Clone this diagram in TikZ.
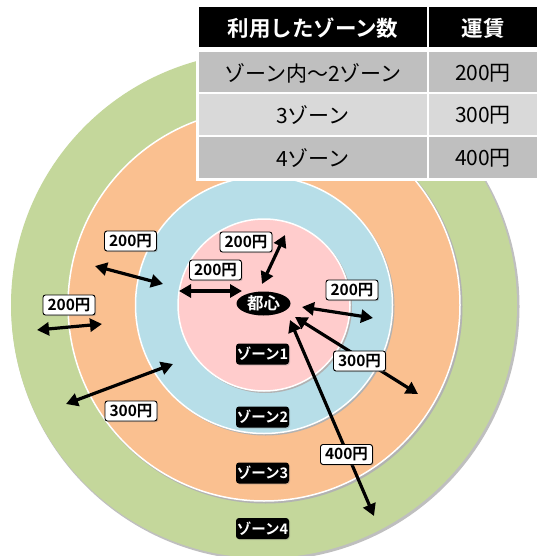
\documentclass[tikz,border=0pt]{standalone}
\usepackage{fontspec}
\setmainfont{Noto Sans CJK JP}[BoldFont={Noto Sans CJK JP Bold}]
\usetikzlibrary{arrows.meta,shapes.geometric,shadows}
\definecolor{zgreen}{HTML}{C4D79B}
\definecolor{zorange}{HTML}{FAC090}
\definecolor{zblue}{HTML}{B7DEE8}
\definecolor{zpink}{HTML}{FFCCCC}
\definecolor{rowdark}{HTML}{BFBFBF}
\definecolor{rowlight}{HTML}{D9D9D9}
\tikzset{
  ring/.style={draw=white, line width=1.5pt},
  price/.style={draw=black, line width=0.9pt, fill=white, rounded corners=2.5pt,
    minimum width=52pt, minimum height=20pt, inner sep=0pt,
    font=\bfseries\fontsize{15.5}{15.5}\selectfont,
    drop shadow={shadow xshift=1.2pt, shadow yshift=-1.2pt, opacity=0.35}},
  zonelbl/.style={fill=black, rounded corners=3pt, text=white,
    minimum width=53pt, minimum height=21pt, inner sep=0pt,
    font=\bfseries\fontsize{14.5}{14.5}\selectfont,
    drop shadow={shadow xshift=1pt, shadow yshift=-1pt, opacity=0.3}},
  farrow/.style={line width=3.2pt,
    {Triangle[length=12pt,width=13pt]}-{Triangle[length=12pt,width=13pt]}},
  hdrcell/.style={fill=black},
  hdrtext/.style={text=white, font=\bfseries\fontsize{21.5}{21.5}\selectfont},
  celltext/.style={text=black, font=\fontsize{21}{21}\selectfont},
}
\begin{document}
\begin{tikzpicture}[x=1pt,y=-1pt]
\useasboundingbox (0,0) rectangle (537,556);
\fill[white] (0,0) rectangle (537,556);
% rings
\coordinate (c) at (264,305);
\fill[black!25] (265.5,306.5) circle (254);
\fill[zgreen] (c) circle (253);
\fill[black!30] (265.5,306.5) circle (197);
\draw[ring, fill=zorange] (c) circle (196);
\fill[black!30] (265.5,306.5) circle (129);
\draw[ring, fill=zblue] (c) circle (128.5);
\fill[black!30] (265.5,306.5) circle (86.5);
\draw[ring, fill=zpink] (c) circle (86);
% table
\fill[white] (196,4) rectangle (537,181);
\fill[hdrcell] (199,7) rectangle (427,47);
\fill[hdrcell] (429,7) rectangle (537,47);
\fill[rowdark] (199,52) rectangle (427,92);
\fill[rowdark] (429,52) rectangle (537,92);
\fill[rowlight] (199,94) rectangle (427,135);
\fill[rowlight] (429,94) rectangle (537,135);
\fill[rowdark] (199,137) rectangle (427,178);
\fill[rowdark] (429,137) rectangle (537,178);
\node[hdrtext] (h1) at (313,28) {利用したゾーン数};
\node[hdrtext] (h2) at (483,28) {運賃};
\node[celltext] (r1a) at (313,73) {ゾーン内～2ゾーン};
\node[celltext] (r1b) at (483,73) {200円};
\node[celltext] (r2a) at (313,115) {3ゾーン};
\node[celltext] (r2b) at (483,115) {300円};
\node[celltext] (r3a) at (313,158) {4ゾーン};
\node[celltext] (r3b) at (483,158) {400円};
% arrows
\coordinate (a1s) at (262,284); \coordinate (a1e) at (285,235);
\coordinate (a2s) at (179,291); \coordinate (a2e) at (242,291);
\coordinate (a3s) at (302,307); \coordinate (a3e) at (373,318);
\coordinate (a4s) at (95,266);  \coordinate (a4e) at (163,284);
\coordinate (a5s) at (37,330);  \coordinate (a5e) at (102,324);
\coordinate (a6s) at (66,404);  \coordinate (a6e) at (173,364);
\coordinate (a7s) at (295,317); \coordinate (a7e) at (418,394);
\coordinate (a8s) at (290,320); \coordinate (a8e) at (374,516);
\draw[farrow] (a1s) -- (a1e);
\draw[farrow] (a2s) -- (a2e);
\draw[farrow] (a3s) -- (a3e);
\draw[farrow] (a4s) -- (a4e);
\draw[farrow] (a5s) -- (a5e);
\draw[farrow] (a6s) -- (a6e);
\draw[farrow] (a7s) -- (a7e);
\draw[farrow] (a8s) -- (a8e);
% center
\node[ellipse, fill=black, text=white, minimum width=54pt, minimum height=24pt,
  inner sep=0pt, font=\bfseries\fontsize{16.5}{16.5}\selectfont] (toshin) at (263.5,303.5) {都心};
% price labels
\node[price] (p1) at (246,242) {200円};
\node[price] (p2) at (215.5,270) {200円};
\node[price] (p3) at (352,290) {200円};
\node[price] (p4) at (130.5,241) {200円};
\node[price] (p5) at (69,305) {200円};
\node[price] (p6) at (131,411) {300円};
\node[price] (p7) at (359.5,361) {300円};
\node[price] (p8) at (346.5,454.5) {400円};
% zone labels
\node[zonelbl] (z1) at (262.5,354) {ゾーン1};
\node[zonelbl] (z2) at (262.5,417) {ゾーン2};
\node[zonelbl] (z3) at (262.5,473) {ゾーン3};
\node[zonelbl] (z4) at (262.5,528.5) {ゾーン4};
\end{tikzpicture}
\end{document}
